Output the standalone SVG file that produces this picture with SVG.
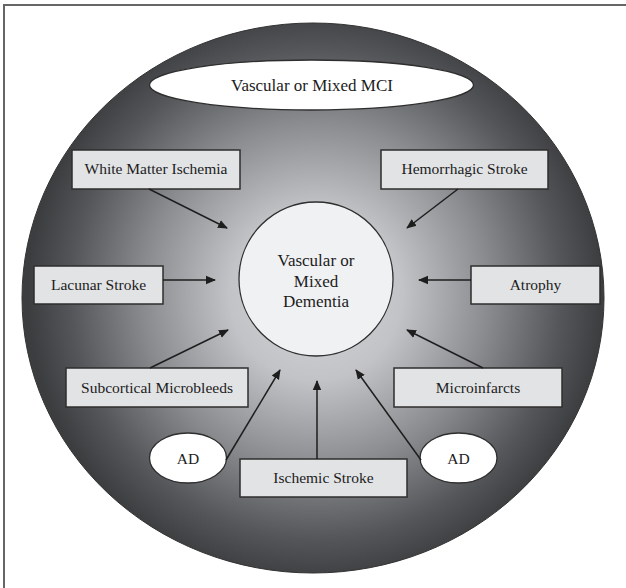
<svg xmlns="http://www.w3.org/2000/svg" width="626" height="588" viewBox="0 0 626 588">
  <defs>
    <radialGradient id="shade" gradientUnits="userSpaceOnUse" cx="316" cy="294" r="288">
      <stop offset="0" stop-color="#d6d7da"/>
      <stop offset="0.3" stop-color="#c2c3c6"/>
      <stop offset="0.6" stop-color="#8a8b8e"/>
      <stop offset="0.85" stop-color="#55565a"/>
      <stop offset="1" stop-color="#3c3d3f"/>
    </radialGradient>
    <marker id="head" viewBox="0 0 10 10" refX="9" refY="5" markerWidth="10" markerHeight="10" markerUnits="userSpaceOnUse" orient="auto">
      <path d="M0,0.8 L10,5 L0,9.2 Z" fill="#1e1e1e"/>
    </marker>
    <style>
      .box { fill: #e2e3e5; stroke: #2e2e2e; stroke-width: 1.5; }
      .oval { fill: #ffffff; stroke: #2e2e2e; stroke-width: 1.3; }
      .lbl { font-family: "Liberation Serif", "Times New Roman", serif; font-size: 15.5px; fill: #1c1c1c; text-anchor: middle; }
      .big { font-size: 17px; }
      .arrow { stroke: #1e1e1e; stroke-width: 1.5; fill: none; marker-end: url(#head); }
    </style>
  </defs>

  <!-- page frame -->
  <rect x="4" y="5" width="700" height="700" fill="#ffffff" stroke="#666666" stroke-width="2"/>

  <!-- shaded disc -->
  <g id="backdrop">
    <ellipse cx="313" cy="298" rx="291" ry="275" fill="url(#shade)" stroke="#333" stroke-width="1"/>
  </g>

  <g id="mci">
    <ellipse class="oval" cx="311.5" cy="85" rx="162" ry="25"/>
    <text class="lbl big" x="312" y="91">Vascular or Mixed MCI</text>
  </g>

  <g id="dementia">
    <circle cx="316" cy="279" r="77" fill="#f0f1f3" stroke="#2e2e2e" stroke-width="1.3"/>
    <text class="lbl big" x="316" y="266">Vascular or</text>
    <text class="lbl big" x="316" y="286.5">Mixed</text>
    <text class="lbl big" x="316" y="307">Dementia</text>
  </g>

  <g id="white-matter">
    <rect class="box" x="72" y="150" width="168" height="39"/>
    <text class="lbl" x="156" y="174">White Matter Ischemia</text>
  </g>

  <g id="hemorrhagic">
    <rect class="box" x="381" y="150" width="167" height="39"/>
    <text class="lbl" x="464.5" y="174">Hemorrhagic Stroke</text>
  </g>

  <g id="lacunar">
    <rect class="box" x="34" y="266" width="129" height="38"/>
    <text class="lbl" x="98.5" y="290">Lacunar Stroke</text>
  </g>

  <g id="atrophy">
    <rect class="box" x="471" y="266" width="129" height="38"/>
    <text class="lbl" x="535.5" y="290">Atrophy</text>
  </g>

  <g id="microbleeds">
    <rect class="box" x="66" y="368" width="182" height="39"/>
    <text class="lbl" x="157" y="393">Subcortical Microbleeds</text>
  </g>

  <g id="microinfarcts">
    <rect class="box" x="394" y="368" width="168" height="39"/>
    <text class="lbl" x="478" y="393">Microinfarcts</text>
  </g>

  <g id="ad-left">
    <ellipse class="oval" cx="188" cy="458" rx="38.5" ry="25"/>
    <text class="lbl" x="188" y="464">AD</text>
  </g>

  <g id="ad-right">
    <ellipse class="oval" cx="458.5" cy="458" rx="38.5" ry="25"/>
    <text class="lbl" x="458.5" y="464">AD</text>
  </g>

  <g id="ischemic">
    <rect class="box" x="240" y="459" width="167" height="38"/>
    <text class="lbl" x="323.5" y="483">Ischemic Stroke</text>
  </g>

  <!-- connectors -->
  <g id="connectors">
    <line class="arrow" x1="149" y1="189" x2="227" y2="228"/>
    <line class="arrow" x1="458" y1="189" x2="407" y2="228"/>
    <line class="arrow" x1="163" y1="280" x2="215" y2="280"/>
    <line class="arrow" x1="471" y1="280" x2="419" y2="280"/>
    <line class="arrow" x1="150" y1="368" x2="228" y2="330"/>
    <line class="arrow" x1="483" y1="368" x2="407" y2="330"/>
    <line class="arrow" x1="226" y1="460" x2="280" y2="370"/>
    <line class="arrow" x1="317" y1="459" x2="317" y2="381"/>
    <line class="arrow" x1="421" y1="460" x2="356" y2="370"/>
  </g>
</svg>
